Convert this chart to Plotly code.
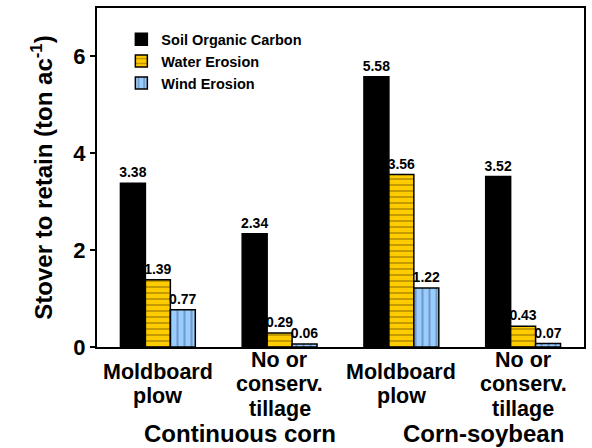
import plotly.graph_objects as go

categories = ["CC-MP", "CC-NT", "CS-MP", "CS-NT"]
tick_labels = ["Moldboard<br>plow", "No or<br>conserv.<br>tillage", "Moldboard<br>plow", "No or<br>conserv.<br>tillage"]
group_labels = ["Continuous corn", "Corn-soybean"]
soc = [3.38, 2.34, 5.58, 3.52]
water = [1.39, 0.29, 3.56, 0.43]
wind = [0.77, 0.06, 1.22, 0.07]

FONT = "Arial, Liberation Sans, sans-serif"

fig = go.Figure()
common = dict(texttemplate="%{y:.2f}", textposition="outside", cliponaxis=False,
              constraintext="none",
              textfont=dict(family=FONT, size=14, color="black", weight="bold"))
fig.add_bar(x=categories, y=soc, name="Soil Organic Carbon",
            marker=dict(color="black", line=dict(color="black", width=1.5)), **common)
fig.add_bar(x=categories, y=water, name="Water Erosion",
            marker=dict(color="#FFCC00", line=dict(color="black", width=1.5),
                        pattern=dict(shape="-", fgcolor="#7a5c00", bgcolor="#FFCC00",
                                     size=6, solidity=0.3)), **common)
fig.add_bar(x=categories, y=wind, name="Wind Erosion",
            marker=dict(color="#99CCFF", line=dict(color="black", width=1.5),
                        pattern=dict(shape="|", fgcolor="#4a6a90", bgcolor="#99CCFF",
                                     size=7, solidity=0.3)), **common)

# category labels (each line placed separately for tight line spacing, block centred)
LINE = 24.5
for c, t in zip(categories, tick_labels):
    lines = t.split("<br>")
    n = len(lines)
    for i, ln in enumerate(lines):
        fig.add_annotation(x=c, y=0, xref="x", yref="y", text=ln, showarrow=False,
                           yanchor="middle", yshift=-37 - (i - (n - 1) / 2) * LINE,
                           font=dict(family=FONT, size=21.5, color="black", weight="bold"))
# group labels
for (c0, c1), g in zip([(0, 1), (2, 3)], group_labels):
    fig.add_annotation(x=(c0 + c1) / 2, y=0, xref="x", yref="y", text=g, showarrow=False,
                       yanchor="middle", yshift=-86, xshift=21,
                       font=dict(family=FONT, size=24, color="black", weight="bold"))

fig.update_layout(
    width=592, height=448,
    margin=dict(l=97, r=7, t=6, b=101),
    paper_bgcolor="white", plot_bgcolor="white",
    barmode="group", bargap=0.385, bargroupgap=0,
    font=dict(family=FONT, color="black"),
    showlegend=True,
    legend=dict(x=0.05, y=0.955, xanchor="left", yanchor="top",
                bgcolor="rgba(0,0,0,0)",
                font=dict(family=FONT, size=14.5, color="black", weight="bold"),
                tracegroupgap=0),
)
fig.update_xaxes(showticklabels=False, ticks="", showline=True, linecolor="black",
                 linewidth=2, mirror=True, showgrid=False)
fig.update_yaxes(range=[0, 7], tickvals=[0, 2, 4, 6], ticks="outside", ticklen=5,
                 tickwidth=1.5, tickcolor="black",
                 showline=True, linecolor="black", linewidth=2, mirror=True, showgrid=False,
                 zeroline=False,
                 tickfont=dict(family=FONT, size=22, color="black", weight="bold"),
                 title=dict(text="Stover to retain (ton ac<sup>-1</sup>)", standoff=14,
                            font=dict(family=FONT, size=24, color="black", weight="bold")))

fig.write_html("out.html", config={"displayModeBar": False},
               post_script="document.body.style.margin='0';")
